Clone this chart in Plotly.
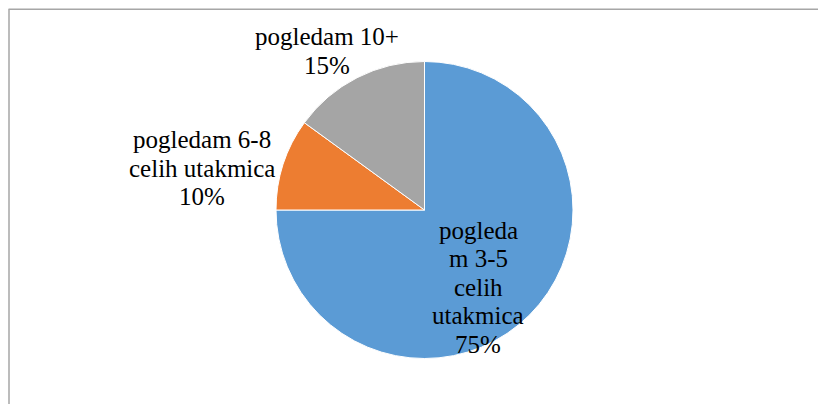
import plotly.graph_objects as go

labels = ["pogledam 3-5 celih utakmica", "pogledam 6-8 celih utakmica", "pogledam 10+"]
values = [75, 10, 15]
colors = ["#5B9BD5", "#ED7D31", "#A5A5A5"]
# data labels, one list of text lines per slice (wrapped as in the source chart)
label_lines = [
    ["pogleda", "m 3-5", "celih", "utakmica", "75%"],
    ["pogledam 6-8", "celih utakmica", "10%"],
    ["pogledam 10+", "15%"],
]
W, H = 826, 404
OFF = 8  # page body margin in the html output
FONT = "Liberation Serif, Times New Roman, serif"


def px_x(v):
    return (v - OFF) / W


def px_y(v):
    return 1 - (v - OFF) / H


fig = go.Figure(go.Pie(
    labels=labels, values=values, sort=False, direction="clockwise", rotation=0,
    marker=dict(colors=colors, line=dict(color="white", width=1)),
    textinfo="none", hoverinfo="label+percent", showlegend=False,
    domain=dict(x=[px_x(276), px_x(573)], y=[px_y(358.5), px_y(61.5)]),
))

# label block centers in pixels, and line spacing
label_pos = [(478, 287), (202, 168), (327, 51)]
line_gap = 28.5
for lines, (px, py) in zip(label_lines, label_pos):
    top = py - line_gap * (len(lines) - 1) / 2
    for i, ln in enumerate(lines):
        fig.add_annotation(text=ln, x=px_x(px), y=px_y(top + i * line_gap), xref="paper", yref="paper",
                           showarrow=False, xanchor="center", yanchor="middle", align="center",
                           font=dict(family=FONT, size=25, color="black"))

# chart-area frame (only top and left edges visible)
fig.add_shape(type="line", xref="paper", yref="paper", x0=px_x(8.5), x1=1.05, y0=px_y(9.3), y1=px_y(9.3),
              line=dict(color="#A6A6A6", width=1.5))
fig.add_shape(type="line", xref="paper", yref="paper", x0=px_x(9), x1=px_x(9), y0=px_y(9.3), y1=-0.05,
              line=dict(color="#A6A6A6", width=1.5))

fig.update_layout(width=W, height=H, margin=dict(l=0, r=0, t=0, b=0),
                  paper_bgcolor="white", plot_bgcolor="white")
fig.write_html("out.html")
